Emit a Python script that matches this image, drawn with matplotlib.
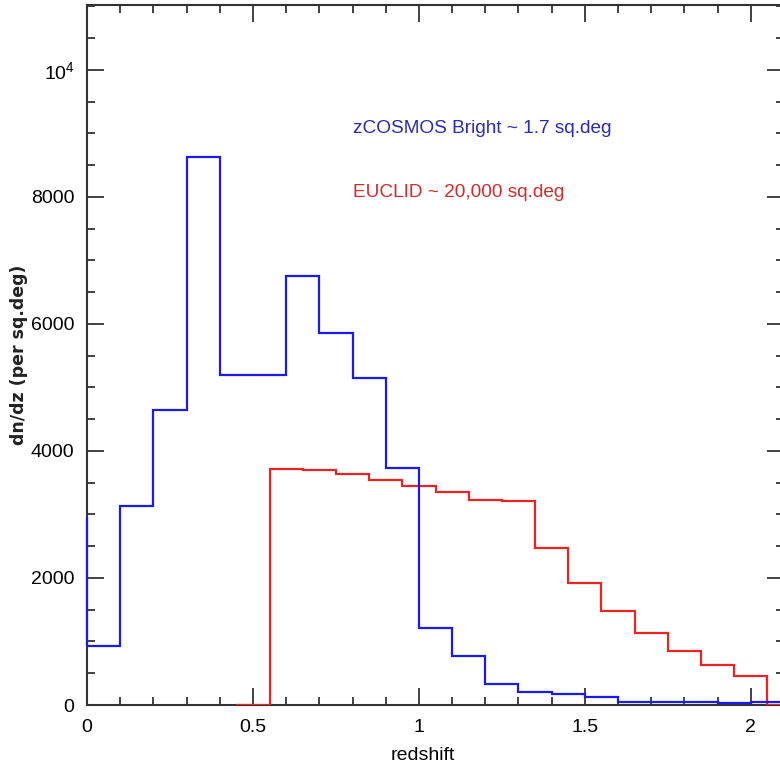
import matplotlib
matplotlib.use('Agg')
import matplotlib.pyplot as plt
from matplotlib.ticker import MultipleLocator

# Daten: dn/dz pro sq.deg, Bins der Breite 0.1
blau_kanten = [-0.1, 0.0, 0.1, 0.2, 0.3, 0.4, 0.5, 0.6, 0.7, 0.8, 0.9, 1.0,
               1.1, 1.2, 1.3, 1.4, 1.5, 1.6, 1.7, 1.8, 1.9, 2.0, 2.1]
blau_werte = [2960, 929, 3134, 4646, 8630, 5197, 5197, 6756, 5858, 5150, 3732,
              1213, 772, 331, 205, 170, 131, 52, 52, 52, 36, 45]

rot_kanten = [0.45, 0.55, 0.65, 0.75, 0.85, 0.95, 1.05, 1.15, 1.25, 1.35,
              1.45, 1.55, 1.65, 1.75, 1.85, 1.95, 2.05, 2.15]
rot_werte = [0, 3717, 3706, 3638, 3543, 3454, 3349, 3235, 3210, 2478,
             1926, 1480, 1129, 855, 630, 462, 0]

y_ticks = [0, 2000, 4000, 6000, 8000, 10000]
y_labels = ['0', '2000', '4000', '6000', '8000', r'$\mathregular{10^4}$']
x_ticks = [0, 0.5, 1, 1.5, 2]
x_labels = ['0', '0.5', '1', '1.5', '2']

plt.rcParams['font.family'] = ['Liberation Sans', 'DejaVu Sans']
plt.rcParams['mathtext.fontset'] = 'custom'
plt.rcParams['mathtext.rm'] = 'Liberation Sans'

fig = plt.figure(figsize=(7.8, 7.65), dpi=100, facecolor='white')
ax = fig.add_axes([87 / 780, 60 / 765, (784 - 87) / 780, 700 / 765])

# Histogramme über den Achsen zeichnen, damit die Kanten bei z=0 sichtbar bleiben
ax.stairs(rot_werte, rot_kanten, baseline=None, color='#ee2222',
          linewidth=1.6, zorder=3)
ax.stairs(blau_werte[1:], blau_kanten[1:], baseline=None, color='#1a1aee',
          linewidth=1.6, zorder=3.1, clip_on=False)
# linke Kante: Sprung vom Bin unter z=0 auf den ersten Bin
ax.vlines(blau_kanten[1], blau_werte[1], blau_werte[0], color='#1a1aee',
          linewidth=1.6, zorder=3.1, clip_on=False)

ax.set_xlim(0, 2.1)
ax.set_ylim(0, 11020)

ax.set_xticks(x_ticks)
ax.set_xticklabels(x_labels)
ax.set_yticks(y_ticks)
ax.set_yticklabels(y_labels)
ax.xaxis.set_minor_locator(MultipleLocator(0.1))
ax.yaxis.set_minor_locator(MultipleLocator(500))

ax.tick_params(which='both', direction='in', top=True, right=True,
               labelsize=14, color='#333333', width=1.3)
ax.tick_params(axis='x', pad=10)
ax.tick_params(axis='y', pad=9)
ax.tick_params(which='major', length=12)
ax.tick_params(which='minor', length=6)
for s in ax.spines.values():
    s.set_linewidth(1.5)
    s.set_color('#333333')

ax.set_xlabel('redshift', fontsize=14)
ax.xaxis.set_label_coords((423 - 87) / 697, -0.06)
ax.set_ylabel('dn/dz (per sq.deg)', fontsize=12.5, family='DejaVu Sans',
              fontweight='bold', color='#222222')
ax.yaxis.set_label_coords(-0.085, 0.5)

ax.text(0.8, 9080, 'zCOSMOS Bright ~ 1.7 sq.deg', color='#2a2ab8', fontsize=13.7,
        va='center', ha='left')
ax.text(0.8, 8070, 'EUCLID ~ 20,000 sq.deg', color='#d42a2a', fontsize=13.7,
        va='center', ha='left')

fig.savefig('out.png', dpi=100)
